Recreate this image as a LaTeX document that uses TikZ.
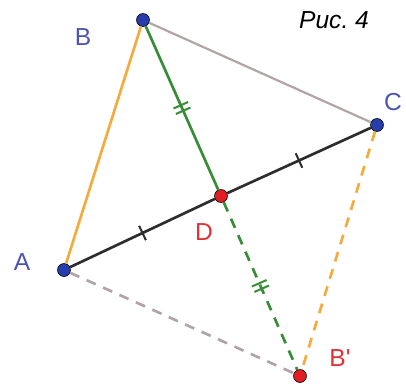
\documentclass[tikz,border=0pt]{standalone}
\usepackage{fontspec}
\setmainfont{Liberation Sans}
\usepackage{tikz}
\usetikzlibrary{
    calc,
    positioning,
    decorations.markings
}
\definecolor{ptblue}{RGB}{40,60,170}
\definecolor{ptred}{RGB}{225,30,35}
\definecolor{lblblue}{RGB}{75,85,175}
\definecolor{lblred}{RGB}{225,50,50}
\definecolor{segorange}{RGB}{245,170,60}
\definecolor{seggreen}{RGB}{55,140,55}
\definecolor{seggray}{RGB}{175,165,165}
\definecolor{segblack}{RGB}{45,45,45}
\tikzset{
    pt/.style={
        draw=black,
        circle,
        inner sep=0pt,
        minimum size=3.9mm,
        line width=0.5pt
    },
    ptb/.style={
        pt,
        fill=ptblue
    },
    ptr/.style={
        pt,
        fill=ptred
    },
    seg/.style={
        line width=0.8mm
    },
    dsh/.style={
        line width=0.8mm,
        dash pattern=on 3mm off 2.4mm
    },
    onetick/.style={
        postaction=decorate,
        decoration={markings,
            mark=at position 0.5 with {\draw[solid, line width=0.6mm, #1] (0,-2.4mm) -- (0,2.4mm);}}
    },
    twotick/.style={
        postaction=decorate,
        decoration={markings,
            mark=at position 0.5 with {\draw[solid, line width=0.6mm, #1] (-0.9mm,-2.4mm) -- (-0.9mm,2.4mm)
                (0.9mm,-2.4mm) -- (0.9mm,2.4mm);}}
    }
}

\begin{document}
\begin{tikzpicture}[
    x=0.03cm, y=-0.03cm,
    every node/.style={font=\fontsize{21}{25}\selectfont},
    lb/.style={text=lblblue},
    lr/.style={text=lblred}
]
\useasboundingbox (0,0) rectangle (406,384);

\node[ptb] (B) at (143,20) {};
\node[ptb] (C) at (377,125) {};
\node[ptb] (A) at (64,270) {};
\node[ptr] (D) at (221,196) {};
\node[ptr] (B1) at (300,376) {};

\draw[seg, segorange] (A) -- (B);
\draw[seg, seggray, line width=0.65mm] (B) -- (C);
\draw[seg, segblack, onetick=segblack] (A) -- (D);
\draw[seg, segblack, onetick=segblack] (D) -- (C);
\draw[seg, seggreen, twotick=seggreen] (B) -- (D);
\draw[dsh, seggreen, twotick=seggreen] (D) -- (B1);
\draw[dsh, seggray] (A) -- (B1);
\draw[dsh, segorange] (C) -- (B1);

\node[lb] (lA) at (22,262) {A};
\node[lb] (lB) at (83,37) {B};
\node[lb] (lC) at (393,102) {C};
\node[lr] (lD) at (204,232) {D};
\node[lr] (lB1) at (340,358) {B\textquotesingle};
\node (fig) at (334,20) {\itshape Рис.\ 4};

\end{tikzpicture}
\end{document}
